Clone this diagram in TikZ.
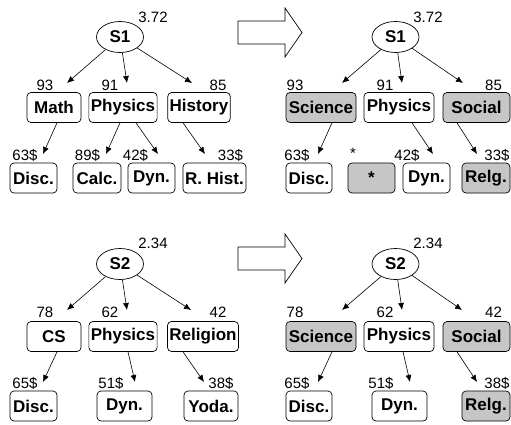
\documentclass[tikz,border=0pt]{standalone}
\usepackage{fontspec}
\setmainfont{Liberation Sans}
\usetikzlibrary{shapes.geometric}
\usetikzlibrary{arrows.meta}

\tikzset{
    cbox/.style={draw, rounded corners=4pt, line width=0.7pt, fill=white, inner xsep=2pt,
        minimum height=30pt, minimum width=47pt, font=\bfseries\fontsize{17}{20}\selectfont},
    gbox/.style={cbox, fill=gray!45},
    snode/.style={ellipse, draw, line width=0.7pt, minimum width=47pt, minimum height=31pt,
        inner sep=0pt, font=\bfseries\fontsize{17}{20}\selectfont},
    val/.style={inner sep=0pt, font=\fontsize{15}{17}\selectfont},
    arr/.style={-{Latex[length=7pt,width=6pt]}, line width=0.6pt},
}

\begin{document}
\begin{tikzpicture}[x=1pt, y=-1pt]
        \useasboundingbox (0,0) rectangle (511,424);

        % Top left: nodes
        \node[snode] (a0) at (120,37) {S1};
        \node[val] (a0v) at (153,17) {3.72};
        \node[cbox, minimum width=54pt] (a1) at (54,107.5) {Math};
        \node[cbox] (a2) at (123,107.5) {Physics};
        \node[cbox, minimum width=62pt] (a3) at (199,107.5) {History};
        \node[val] (a1n) at (45,85) {93};
        \node[val] (a2n) at (110,85) {91};
        \node[val] (a3n) at (218,85) {85};
        \node[cbox] (a4) at (33.5,178) {Disc.};
        \node[cbox, minimum width=48pt] (a5) at (97,178) {Calc.};
        \node[cbox] (a6) at (151.5,178) {Dyn.};
        \node[cbox, minimum width=63pt] (a7) at (214.5,178) {R. Hist.};
        \node[val] (a4n) at (25,155) {63\$};
        \node[val] (a5n) at (87.5,155) {89\$};
        \node[val] (a6n) at (135.5,155) {42\$};
        \node[val] (a7n) at (230.5,155) {33\$};
        \coordinate (a1t) at (67,83);
        \coordinate (a2t) at (127,83);
        \coordinate (a3t) at (192,83);
        \coordinate (a4t) at (43,154);
        \coordinate (a5t) at (106,154);
        \coordinate (a6t) at (158,154);
        \coordinate (a7t) at (205,154);

        % Top left: edges
        \draw[arr] (a0) -- (a1t);
        \draw[arr] (a0) -- (a2t);
        \draw[arr] (a0) -- (a3t);
        \draw[arr] ([xshift=3pt]a1.south) -- (a4t);
        \draw[arr] ([xshift=-3pt]a2.south) -- (a5t);
        \draw[arr] ([xshift=13pt]a2.south) -- (a6t);
        \draw[arr] ([xshift=-16pt]a3.south) -- (a7t);

        % Top right: nodes
        \node[snode] (b0) at (395.5,37) {S1};
        \node[val] (b0v) at (428,17) {3.72};
        \node[gbox, minimum width=70pt] (b1) at (321,107.5) {Science};
        \node[cbox, minimum width=70pt] (b2) at (399,107.5) {Physics};
        \node[gbox, minimum width=67pt] (b3) at (476.5,107.5) {Social};
        \node[val] (b1n) at (295,85) {93};
        \node[val] (b2n) at (385,85) {91};
        \node[val] (b3n) at (493.5,85) {85};
        \node[cbox, minimum width=46pt] (b4) at (309,178) {Disc.};
        \node[gbox] (b5) at (371.5,178) {*};
        \node[cbox] (b6) at (426.5,178) {Dyn.};
        \node[gbox, minimum width=48pt] (b7) at (486,178) {Relg.};
        \node[val] (b4n) at (297,155) {63\$};
        \node[val] (b5n) at (353,153) {*};
        \node[val] (b6n) at (407,155) {42\$};
        \node[val] (b7n) at (497,155) {33\$};
        \coordinate (b1t) at (342,83);
        \coordinate (b2t) at (402,83);
        \coordinate (b3t) at (463,83);
        \coordinate (b4t) at (318,154);
        \coordinate (b6t) at (433,154);
        \coordinate (b7t) at (477,154);

        % Top right: edges
        \draw[arr] (b0) -- (b1t);
        \draw[arr] (b0) -- (b2t);
        \draw[arr] (b0) -- (b3t);
        \draw[arr] ([xshift=11pt]b1.south) -- (b4t);
        \draw[arr] ([xshift=13pt]b2.south) -- (b6t);
        \draw[arr] ([xshift=-19.5pt]b3.south) -- (b7t);

        % Bottom left: nodes
        \node[snode] (c0) at (120,264) {S2};
        \node[val] (c0v) at (153,243) {2.34};
        \node[cbox, minimum width=54pt] (c1) at (54,336.5) {CS};
        \node[cbox] (c2) at (123,336.5) {Physics};
        \node[cbox, minimum width=70pt] (c3) at (203,336.5) {Religion};
        \node[val] (c1n) at (45,312) {78};
        \node[val] (c2n) at (110,312) {62};
        \node[val] (c3n) at (218,312) {42};
        \node[cbox] (c4) at (33.5,406) {Disc.};
        \node[cbox, minimum width=55pt] (c5) at (124.5,406) {Dyn.};
        \node[cbox, minimum width=54pt] (c6) at (211,406) {Yoda.};
        \node[val] (c4n) at (25,383) {65\$};
        \node[val] (c5n) at (111,383) {51\$};
        \node[val] (c6n) at (221,383) {38\$};
        \coordinate (c1t) at (67,310);
        \coordinate (c2t) at (127,310);
        \coordinate (c3t) at (191,310);
        \coordinate (c4t) at (43,382);
        \coordinate (c5t) at (135,382);
        \coordinate (c6t) at (204,382);

        % Bottom left: edges
        \draw[arr] (c0) -- (c1t);
        \draw[arr] (c0) -- (c2t);
        \draw[arr] (c0) -- (c3t);
        \draw[arr] ([xshift=3pt]c1.south) -- (c4t);
        \draw[arr] ([xshift=5pt]c2.south) -- (c5t);
        \draw[arr] ([xshift=-20pt]c3.south) -- (c6t);

        % Bottom right: nodes
        \node[snode] (d0) at (395.5,264) {S2};
        \node[val] (d0v) at (428,243) {2.34};
        \node[gbox, minimum width=70pt] (d1) at (321,336.5) {Science};
        \node[cbox, minimum width=70pt] (d2) at (399,336.5) {Physics};
        \node[gbox, minimum width=67pt] (d3) at (476.5,336.5) {Social};
        \node[val] (d1n) at (295,312) {78};
        \node[val] (d2n) at (385,312) {62};
        \node[val] (d3n) at (493.5,312) {42};
        \node[cbox, minimum width=46pt] (d4) at (309,406) {Disc.};
        \node[cbox, minimum width=55pt] (d5) at (399.5,406) {Dyn.};
        \node[gbox, minimum width=48pt] (d6) at (486,406) {Relg.};
        \node[val] (d4n) at (297,383) {65\$};
        \node[val] (d5n) at (381,383) {51\$};
        \node[val] (d6n) at (497,383) {38\$};
        \coordinate (d1t) at (342,310);
        \coordinate (d2t) at (402,310);
        \coordinate (d3t) at (462,310);
        \coordinate (d4t) at (318,382);
        \coordinate (d5t) at (410,382);
        \coordinate (d6t) at (477,382);

        % Bottom right: edges
        \draw[arr] (d0) -- (d1t);
        \draw[arr] (d0) -- (d2t);
        \draw[arr] (d0) -- (d3t);
        \draw[arr] ([xshift=11pt]d1.south) -- (d4t);
        \draw[arr] ([xshift=4pt]d2.south) -- (d5t);
        \draw[arr] ([xshift=-19.5pt]d3.south) -- (d6t);

        % Block arrows
        \draw[line width=0.7pt] (238,21) -- (285,21) -- (285,8) -- (302,32.5)
            -- (285,57) -- (285,44) -- (238,44) -- cycle;
        \draw[line width=0.7pt] (238,247) -- (285,247) -- (285,234) -- (302,258.5)
            -- (285,283) -- (285,270) -- (238,270) -- cycle;

    \end{tikzpicture}
\end{document}
